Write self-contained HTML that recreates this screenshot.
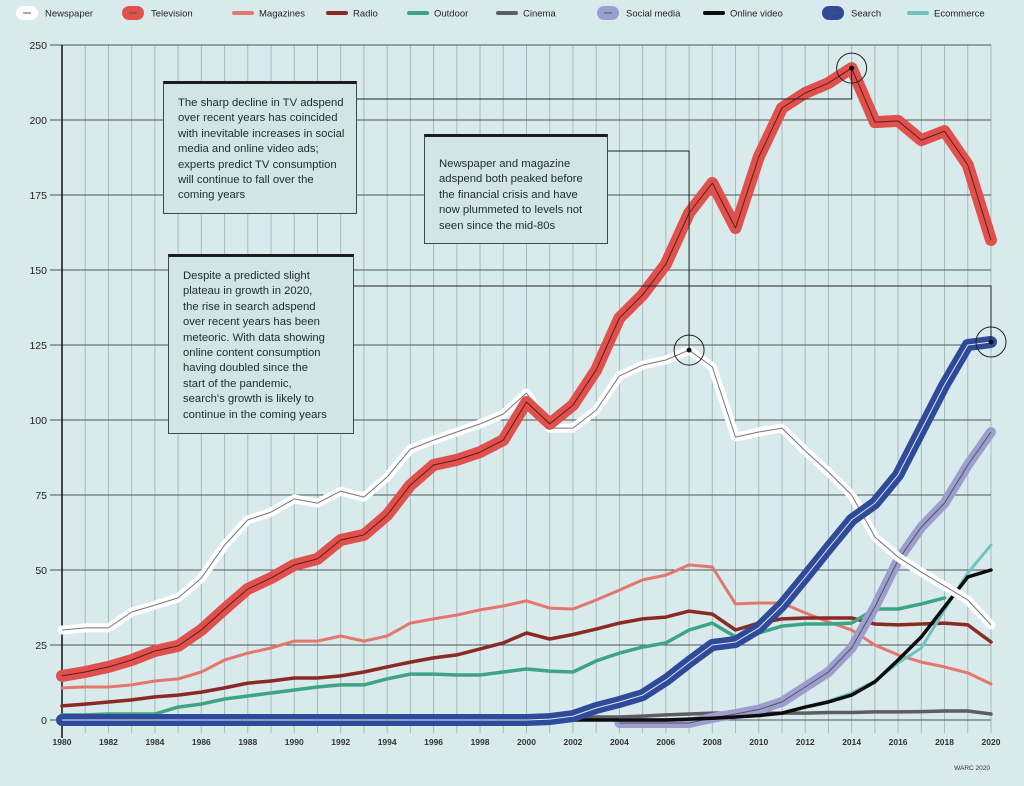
<!DOCTYPE html>
<html><head><meta charset="utf-8">
<style>
body{margin:0;background:#d9eaec;font-family:"Liberation Sans",sans-serif;}
svg{display:block}
.note{position:absolute;background:#d1e5e7;border:1px solid #3d4a4c;border-top:3px solid #1c1c1c;font-size:11.3px;line-height:15.4px;color:#1e2a2c;padding:12px 0 0 14px;box-sizing:border-box}
</style></head>
<body>
<div style="position:relative;width:1024px;height:786px;overflow:hidden">
<svg id="c" width="1024" height="786"></svg>
<div class="note" style="left:163px;top:81px;width:194px;height:133px">The sharp decline in TV adspend<br>over recent years has coincided<br>with inevitable increases in social<br>media and online video ads;<br>experts predict TV consumption<br>will continue to fall over the<br>coming years</div>
<div class="note" style="left:424px;top:134px;width:184px;height:110px;padding-top:20px">Newspaper and magazine<br>adspend both peaked before<br>the financial crisis and have<br>now plummeted to levels not<br>seen since the mid-80s</div>
<div class="note" style="left:168px;top:254px;width:186px;height:180px">Despite a predicted slight<br>plateau in growth in 2020,<br>the rise in search adspend<br>over recent years has been<br>meteoric. With data showing<br>online content consumption<br>having doubled since the<br>start of the pandemic,<br>search's growth is likely to<br>continue in the coming years</div>
</div>
<script>
const years=[];for(let y=1980;y<=2020;y++)years.push(y);
const yTickVals=[0,25,50,75,100,125,150,175,200,225];
const yTickLabels=["0","25","50","75","100","125","150","175","200","250"];
const newspaper=[30,30.7,30.7,36,38.3,40.7,47.3,58.3,66.7,69.3,73.7,72.3,76.3,74.3,81,90.3,93.3,96,98.7,102,109,97.3,97.3,103.3,114.7,118.3,120,123.3,117.7,94.3,96,97.3,89.7,82.7,75,61,54.3,49.3,44.7,40,31.7];
const television=[14.7,16,17.7,20,23,24.7,30,37,43.7,47.3,51.7,53.7,60,61.7,68.3,78.3,85,86.7,89.3,93.3,106,98.7,105,116.7,134,141.7,152,169,179,164,187.7,204,209,212.3,217.3,199.3,199.7,193.3,196.3,185,160];
const magazines=[10.7,11,11,11.7,13,13.7,16,20,22.3,24,26.3,26.3,28,26.3,28,32.3,33.7,35,36.7,38,39.7,37.3,37,40,43.3,46.7,48.3,51.7,51,38.7,39,39,35.7,32.7,30,25,21.7,19.3,17.7,15.7,12];
const radio=[4.7,5.3,6,6.7,7.7,8.3,9.3,10.7,12.3,13,14,14,14.7,16,17.7,19.3,20.7,21.7,23.7,25.7,29,27,28.5,30.3,32.3,33.7,34.3,36.3,35.3,30,32.3,33.7,34,34,34,32,31.7,32,32.3,31.7,26];
const outdoor=[1.7,1.7,2,2,2,4.3,5.3,7,8,9,10,11,11.7,11.7,13.7,15.3,15.3,15,15,16,17,16.3,16,19.7,22.3,24.3,25.7,30,32.3,27.7,29,31.3,32,32,32.3,37,37,38.7,40.7,null,null];
const cinema=[0,0,0,0,0,0,0,0,0,0,0,0,0,0,0,0,0,0,0,0,0,0,0.7,1,1,1.3,1.7,2,2.3,2.3,2.3,2.3,2.3,2.5,2.5,2.7,2.7,2.8,3,3,2];
const socialMedia=[null,null,null,null,null,null,null,null,null,null,null,null,null,null,null,null,null,null,null,null,null,null,null,null,-1,-1,-1,-1,0.7,2,3.5,6,11,16,24,37.7,53.3,64.3,72.3,85,96];
const onlineVideo=[null,null,null,null,null,null,null,null,null,null,null,null,null,null,null,null,null,null,null,null,null,0,0,0,0,0,0,0.3,0.6,1,1.5,2.3,4.3,6,8.3,12.7,20,27.7,37.7,47.7,50];
const ecommerce=[null,null,null,null,null,null,null,null,null,null,null,null,null,null,null,null,null,null,null,null,null,null,null,null,null,null,null,null,null,null,1.3,2.3,4.3,6.3,9,13,19,24,36.7,49,58.3];
const search=[0,0,0,0,0,0,0,0,0,0,0,0,0,0,0,0,0,0,0,0,0,0.3,1.3,4,6,8.3,13.3,19.3,25,26,30.7,38.3,47.7,57.3,66.7,72.3,81.7,96.7,111.7,125,126];

const X=y=>62+(y-1980)*(991-62)/40;
const Y=v=>720-v*3;
const NS="http://www.w3.org/2000/svg";
const svg=document.getElementById('c');
function el(t,a,p){const e=document.createElementNS(NS,t);for(const k in a)e.setAttribute(k,a[k]);(p||svg).appendChild(e);return e;}
// vertical grid
for(const y of years){const l=el('line',{x1:X(y),x2:X(y),y1:45,y2:733,stroke:'#a5babd','stroke-width':1});

}
yTickVals.forEach((v,i)=>{
const l=el('line',{x1:50,x2:991,y1:Y(v),y2:Y(v),stroke:'#4d5658','stroke-width':1});


const t=el('text',{x:47,y:Y(v)+4,'text-anchor':'end','font-size':10.5,fill:'#222'});t.textContent=yTickLabels[i];


});
el('line',{x1:62,x2:62,y1:45,y2:738,stroke:'#111','stroke-width':1.5});
years.forEach(y=>{if(y%2)return;
const t=el('text',{x:X(y),y:745,'text-anchor':'middle','font-size':8.5,'font-weight':'bold',fill:'#333'});t.textContent=y;

});
const w=el('text',{x:990,y:770,'text-anchor':'end','font-size':6.5,fill:'#333'});w.textContent='WARC 2020';


function path(arr){let d='',s=false;arr.forEach((v,i)=>{if(v===null){s=false;return;}d+=(s?'L':'M')+X(years[i]).toFixed(1)+' '+Y(v).toFixed(1);s=true;});return d;}
function series(name,arr,color,width,inner,innerW){
const g=el('g',{});


el('path',{d:path(arr),fill:'none',stroke:color,'stroke-width':width,'stroke-linejoin':'round','stroke-linecap':'round'},g);
if(inner)el('path',{d:path(arr),fill:'none',stroke:inner,'stroke-width':innerW||1,'stroke-linejoin':'round'},g);}
series('magazines',magazines,'#e3776d',3);
series('radio',radio,'#8a2a24',3.5);
series('outdoor',outdoor,'#3ea487',3.5);
series('cinema',cinema,'#5d5e60',3.5);
series('ecommerce',ecommerce,'#6fc4c1',3);
series('social-media',socialMedia,'#9c9ecf',10,'#555',1);
series('online-video',onlineVideo,'#0c0c0c',3.5);
series('newspaper',newspaper,'#ffffff',9,'#777',1);
series('television',television,'#e0504c',12,'#5a1e1c',1);
series('search',search,'#2e4a99',12,'#dfe6f3',1);
// callout connectors
function conn(pts,cx,cy,n){const g=el('g',{});


el('polyline',{points:pts,fill:'none',stroke:'#222','stroke-width':1},g);
el('circle',{cx,cy,r:15,fill:'none',stroke:'#222','stroke-width':1},g);
el('circle',{cx,cy,r:2.5,fill:'#111'},g);}
conn(`357,99 ${X(2014)},99 ${X(2014)},${Y(television[34])}`,X(2014),Y(television[34]),'tv-peak-callout');
conn(`608,151 ${X(2007)},151 ${X(2007)},${Y(newspaper[27])}`,X(2007),Y(newspaper[27]),'newspaper-peak-callout');
conn(`354,286 ${X(2020)},286 ${X(2020)},${Y(search[40])}`,X(2020),Y(search[40]),'search-callout');
// legend
const leg=[['Newspaper','#fff',1,27],['Television','#e0504c',1,133],['Magazines','#e3776d',0,243],['Radio','#8a2a24',0,337],['Outdoor','#3ea487',0,418],['Cinema','#5d5e60',0,507],['Social media','#9c9ecf',1,608],['Online video','#0c0c0c',0,714],['Search','#2e4a99',1,833],['Ecommerce','#6fc4c1',0,918]];
leg.forEach(([n,c,big,x])=>{const g=el('g',{});


if(big){el('rect',{x:x-11,y:6,width:22,height:14,rx:7,fill:c},g);el('line',{x1:x-4,x2:x+4,y1:13,y2:13,stroke:'#555','stroke-width':1},g);}
else el('line',{x1:x-9,x2:x+9,y1:13,y2:13,stroke:c,'stroke-width':4,'stroke-linecap':'round'},g);
const t=el('text',{x:x+(big?18:16),y:16.5,'font-size':9.5,fill:'#222'},g);t.textContent=n;});
</script>
</body></html>
